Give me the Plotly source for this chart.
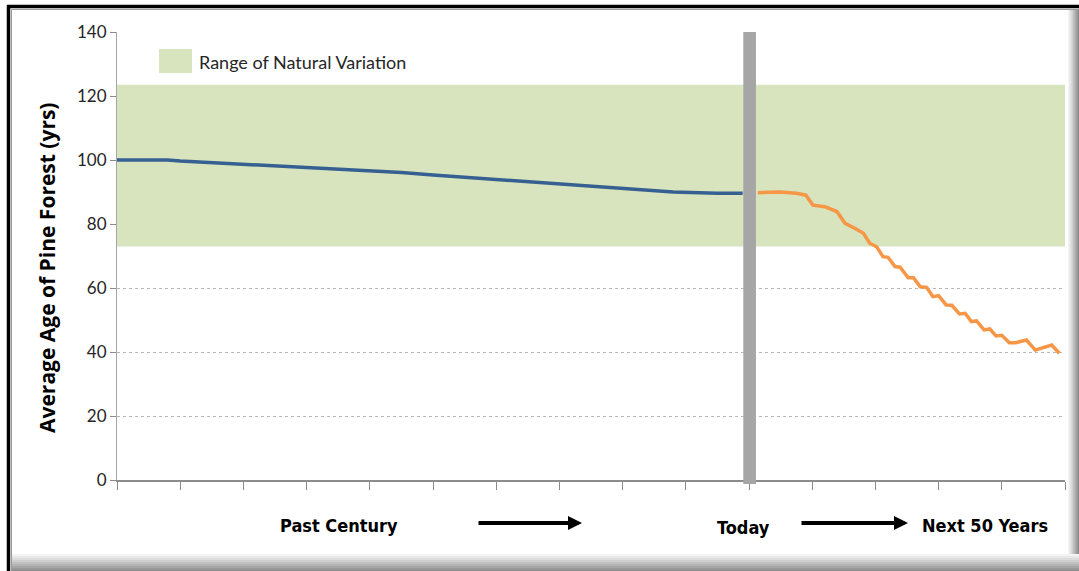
import plotly.graph_objects as go

# years relative to today (negative = past century)
past_years = [-100, -92, -90, -85, -80, -75, -70, -65, -60, -55, -50, -45, -40,
              -35, -30, -25, -20, -15, -12, -5, -1]
past_age = [100, 100, 99.7, 99.2, 98.7, 98.3, 97.8, 97.2, 96.6, 96.1, 95.3, 94.6, 93.9,
            93.3, 92.6, 91.9, 91.2, 90.4, 90.0, 89.6, 89.6]

future_years = [1.4, 4.9, 7.5, 9.0, 10.1, 12.0, 13.9, 15.2, 16.8, 18.1, 19.1, 20.2,
                21.2, 22.0, 23.1, 23.9, 25.2, 26.0, 27.1, 28.1, 29.1, 30.0, 31.2, 32.1,
                33.3, 34.2, 35.2, 36.0, 37.2, 38.1, 39.1, 40.0, 41.2, 42.2, 43.9, 45.3,
                47.9, 49.1]
future_age = [89.8, 90.0, 89.6, 89.0, 85.9, 85.4, 83.9, 80.2, 78.6, 77.1, 74.0, 72.9,
              69.8, 69.6, 66.7, 66.5, 63.2, 63.3, 60.4, 60.2, 57.3, 57.6, 54.7, 54.6,
              51.9, 52.1, 49.5, 49.7, 46.9, 47.2, 45.0, 45.2, 42.9, 42.9, 43.75, 40.6,
              42.2, 39.6]

band_low = 73
band_high = 123.5
x_start, x_end = -100, 50
x_ticks = list(range(-100, 51, 10))
y_ticks = [0, 20, 40, 60, 80, 100, 120, 140]

W, H = 1079, 571
L, R, T, B = 117, 1065, 32, 480


def px(x):
    return (x - L) / (R - L)


def py(y):
    return (B - y) / (B - T)


label_font = "Lato, Calibri, sans-serif"
title_font = "Open Sans, sans-serif"
bold_font = "Liberation Sans Narrow, DejaVu Sans Condensed, Arial Narrow, sans-serif"

fig = go.Figure()

# natural variation band
fig.add_trace(go.Scatter(x=[x_start, x_end], y=[band_low, band_low], mode="lines",
                         line=dict(width=0), showlegend=False, hoverinfo="skip"))
fig.add_trace(go.Scatter(x=[x_start, x_end], y=[band_high, band_high], mode="lines",
                         line=dict(width=0), fill="tonexty", fillcolor="#d7e4bd",
                         showlegend=False, hoverinfo="skip"))

fig.add_trace(go.Scatter(x=past_years, y=past_age, mode="lines",
                         line=dict(color="#376092", width=3.5), showlegend=False))
fig.add_trace(go.Scatter(x=future_years, y=future_age, mode="lines",
                         line=dict(color="#f79646", width=3.5), showlegend=False))

shapes = []
# "today" grey bar
shapes.append(dict(type="rect", xref="x", yref="paper", x0=-0.9, x1=1.1,
                   y0=py(484), y1=1, fillcolor="#a6a6a6", line=dict(width=0),
                   layer="above"))
# legend swatch
shapes.append(dict(type="rect", xref="paper", yref="paper", x0=px(159), x1=px(192),
                   y0=py(73), y1=py(49), fillcolor="#d7e4bd", line=dict(width=0)))

# frame: black top/left lines with grey inner line
shapes.append(dict(type="line", xref="paper", yref="paper", x0=px(7), x1=px(1079),
                   y0=py(6.5), y1=py(6.5), line=dict(color="black", width=3.5)))
shapes.append(dict(type="line", xref="paper", yref="paper", x0=px(8.5), x1=px(8.5),
                   y0=py(5), y1=py(571), line=dict(color="black", width=3.5)))
shapes.append(dict(type="line", xref="paper", yref="paper", x0=px(11.5), x1=px(1079),
                   y0=py(9.5), y1=py(9.5), line=dict(color="#9a9a9a", width=1)))
shapes.append(dict(type="line", xref="paper", yref="paper", x0=px(11.5), x1=px(11.5),
                   y0=py(9.5), y1=py(571), line=dict(color="#9a9a9a", width=1)))

# soft shadow on right and bottom edges
greys = ["#f4f4f4", "#e8e8e8", "#dcdcdc", "#cfcfcf", "#c2c2c2", "#b4b4b4",
         "#a6a6a6", "#989898", "#8a8a8a"]
for i, g in enumerate(greys):
    shapes.append(dict(type="rect", xref="paper", yref="paper",
                       x0=px(1068 + i * 1.25), x1=px(1079), y0=py(571), y1=py(10),
                       fillcolor=g, line=dict(width=0), layer="above"))
for i, g in enumerate(greys):
    shapes.append(dict(type="rect", xref="paper", yref="paper",
                       x0=px(12), x1=px(1079), y0=py(571), y1=py(554 + i * 2),
                       fillcolor=g, line=dict(width=0), layer="above"))

annotations = [
    dict(text="<b>Average Age of Pine Forest (yrs)</b>", xref="paper", yref="paper",
         x=px(47), y=py(268), textangle=-90, xanchor="center", yanchor="middle",
         showarrow=False, font=dict(family=title_font, size=21, color="black")),
    dict(text="Range of Natural Variation", xref="paper", yref="paper",
         x=px(197), y=py(62), xanchor="left", yanchor="middle", showarrow=False,
         font=dict(family=label_font, size=18, color="#262626")),
    dict(text="<b>Past Century</b>", xref="x", yref="paper", x=-64.8, y=py(525),
         xanchor="center", yanchor="middle", showarrow=False,
         font=dict(family=bold_font, size=18, color="black")),
    dict(text="<b>Today</b>", xref="x", yref="paper", x=-0.9, y=py(527),
         xanchor="center", yanchor="middle", showarrow=False,
         font=dict(family=bold_font, size=18, color="black")),
    dict(text="<b>Next 50 Years</b>", xref="x", yref="paper", x=37.3, y=py(525),
         xanchor="center", yanchor="middle", showarrow=False,
         font=dict(family=bold_font, size=18, color="black")),
    dict(text="", xref="paper", yref="paper", x=px(582), y=py(523),
         axref="pixel", ayref="pixel", ax=-105, ay=0, showarrow=True, arrowhead=2,
         arrowsize=0.7, arrowwidth=4, arrowcolor="black"),
    dict(text="", xref="paper", yref="paper", x=px(908), y=py(523),
         axref="pixel", ayref="pixel", ax=-108, ay=0, showarrow=True, arrowhead=2,
         arrowsize=0.7, arrowwidth=4, arrowcolor="black"),
]

fig.update_layout(
    width=W, height=H,
    margin=dict(l=L, r=W - R, t=T, b=H - B),
    paper_bgcolor="white", plot_bgcolor="white",
    shapes=shapes, annotations=annotations,
    showlegend=False,
    xaxis=dict(range=[x_start, x_end], tickvals=x_ticks, showticklabels=False,
               ticks="outside", ticklen=8, tickcolor="#8c8c8c", showgrid=False,
               zeroline=False, showline=True, linecolor="#8c8c8c", linewidth=1.5),
    yaxis=dict(range=[0, 140], tickvals=y_ticks, ticks="outside", ticklen=6,
               tickcolor="#8c8c8c", showline=True, linecolor="#a6a6a6", linewidth=1,
               showgrid=True, gridcolor="#b8b8b8", griddash="dot", gridwidth=1,
               zeroline=False,
               tickfont=dict(family=label_font, size=17, color="#262626")),
)

fig.write_html("out.html", config={"displayModeBar": False},
               post_script="document.body.style.margin='0';"
               "document.body.style.overflow='hidden';")
